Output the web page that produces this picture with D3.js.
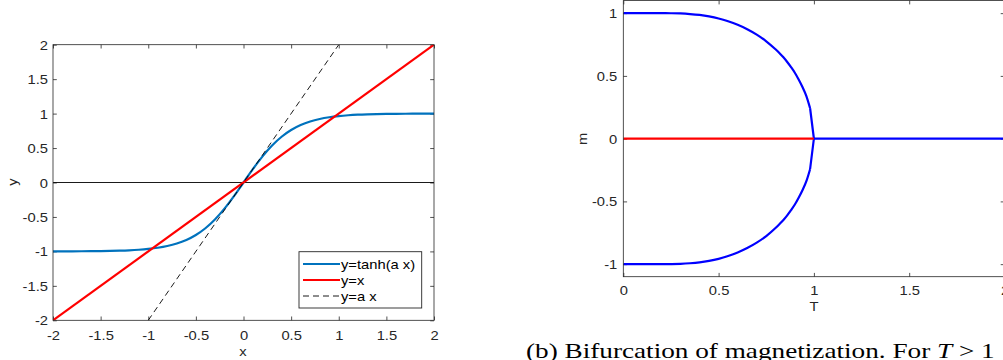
<!DOCTYPE html>
<html><head><meta charset="utf-8">
<script src="https://cdn.jsdelivr.net/npm/d3@7"></script>
<style>html,body{margin:0;padding:0;background:#fff;overflow:hidden}</style>
</head><body>
<svg id="c" width="1003" height="360"></svg>
<script>
// ---------- data: panel (a) ----------
const xTicksA = [-2,-1.5,-1,-0.5,0,0.5,1,1.5,2];
const yTicksA = [-2,-1.5,-1,-0.5,0,0.5,1,1.5,2];
const xTanh = [-2,-1.9,-1.8,-1.7,-1.6,-1.5,-1.4,-1.3,-1.2,-1.1,-1,-0.9,-0.8,-0.7,-0.6,-0.5,-0.4,-0.3,-0.2,-0.1,0,
               0.1,0.2,0.3,0.4,0.5,0.6,0.7,0.8,0.9,1,1.1,1.2,1.3,1.4,1.5,1.6,1.7,1.8,1.9,2];
const yTanh = [-0.9993,-0.9990,-0.9985,-0.9978,-0.9967,-0.9951,-0.9926,-0.9890,-0.9837,-0.9757,-0.9640,-0.9468,-0.9217,-0.8854,-0.8337,-0.7616,-0.6640,-0.5370,-0.3799,-0.1974,0,
               0.1974,0.3799,0.5370,0.6640,0.7616,0.8337,0.8854,0.9217,0.9468,0.9640,0.9757,0.9837,0.9890,0.9926,0.9951,0.9967,0.9978,0.9985,0.9990,0.9993];
const xIdent = [-2, 2];
const yIdent = [-2, 2];
const xSlope = [-1, 1];
const ySlope = [-2, 2];
const xZeroA = [-2, 2];
const yZeroA = [0, 0];
const legendLabels = ["y=tanh(a x)", "y=x", "y=a x"];

// ---------- data: panel (b) ----------
const xTicksB = [0, 0.5, 1, 1.5, 2];
const yTicksB = [-1, -0.5, 0, 0.5, 1];
const tBranch = [0,0.05,0.1,0.15,0.2,0.25,0.3,0.35,0.4,0.45,0.5,0.55,0.6,0.65,0.7,0.75,0.8,0.82,0.84,0.86,0.88,0.9,0.92,0.94,0.96,0.98,1.0];
const mUpper  = [1,1,1,1,0.9999,0.9993,0.9975,0.993,0.9857,0.974,0.9575,0.935,0.907,0.872,0.829,0.776,0.710,0.680,0.648,0.611,0.570,0.525,0.471,0.411,0.341,0.243,0];
const mLower  = [-1,-1,-1,-1,-0.9999,-0.9993,-0.9975,-0.993,-0.9857,-0.974,-0.9575,-0.935,-0.907,-0.872,-0.829,-0.776,-0.710,-0.680,-0.648,-0.611,-0.570,-0.525,-0.471,-0.411,-0.341,-0.243,0];
const tRedZero = [0, 1];
const mRedZero = [0, 0];
const tBlueZero = [1, 2];
const mBlueZero = [0, 0];
const caption = ["(b) Bifurcation of magnetization. For ", "T", " > 1"];

// ---------- drawing ----------
const svg = d3.select("#c");
const AX = "#262626";
const FONT = "'Liberation Sans', Arial, Helvetica, sans-serif";
const FS = 12.5, SX = 1.18;
const fmt = d => String(d);

function zip(a, b){ return a.map((v,i)=>[v,b[i]]); }

function stretchText(sel, x, y, txt, anchor){
  return sel.append("text")
    .attr("transform", `translate(${x},${y}) scale(${SX},1)`)
    .attr("text-anchor", anchor || "middle")
    .attr("font-family", FONT).attr("font-size", FS)
    .attr("fill", AX).text(txt);
}

function panel(o){
  const g = svg.append("g");
  const x = d3.scaleLinear().domain(o.xd).range([o.l, o.r]);
  const y = d3.scaleLinear().domain(o.yd).range([o.b, o.t]);
  const tl = o.tick;
  const bot = g.append("g").attr("transform", `translate(0,${o.b})`)
    .call(d3.axisBottom(x).tickValues(o.xt).tickSizeInner(-tl).tickSizeOuter(0).tickPadding(0).tickFormat(fmt));
  const top = g.append("g").attr("transform", `translate(0,${o.t})`)
    .call(d3.axisTop(x).tickValues(o.xt).tickSizeInner(-tl).tickSizeOuter(0).tickFormat(""));
  const lef = g.append("g").attr("transform", `translate(${o.l},0)`)
    .call(d3.axisLeft(y).tickValues(o.yt).tickSizeInner(-tl).tickSizeOuter(0).tickPadding(0).tickFormat(fmt));
  const rig = g.append("g").attr("transform", `translate(${o.r},0)`)
    .call(d3.axisRight(y).tickValues(o.yt).tickSizeInner(-tl).tickSizeOuter(0).tickFormat(""));
  [bot, top, lef, rig].forEach(a => {
    a.select(".domain").remove();
    a.selectAll("line").attr("stroke", AX).attr("stroke-width", 0.8);
  });
  bot.selectAll("text").attr("y", null).attr("dy", null)
    .attr("transform", `translate(0,${o.xlab}) scale(${SX},1)`)
    .attr("font-family", FONT).attr("font-size", FS).attr("fill", AX);
  lef.selectAll("text").attr("x", null).attr("dy", null)
    .attr("transform", `translate(${-o.ylab},4.5) scale(${SX},1)`)
    .attr("font-family", FONT).attr("font-size", FS).attr("fill", AX);
  return {g, x, y};
}

// Panel (a)
const A = panel({xd:[-2,2], yd:[-2,2], l:53, r:434, t:44.7, b:320.3, xt:xTicksA, yt:yTicksA, tick:3.8, xlab:19.2, ylab:5});
svg.append("clipPath").attr("id","clipA").append("rect")
  .attr("x",53).attr("y",44.7).attr("width",381).attr("height",275.6);
const la = A.g.append("g").attr("clip-path","url(#clipA)");
const lineA = d3.line().x(d=>A.x(d[0])).y(d=>A.y(d[1]));
la.append("path").datum(zip(xZeroA, yZeroA)).attr("d", lineA)
  .attr("fill","none").attr("stroke","#000").attr("stroke-width",0.9);
la.append("path").datum(zip(xTanh, yTanh)).attr("d", lineA.curve(d3.curveCatmullRom))
  .attr("fill","none").attr("stroke","#0072BD").attr("stroke-width",2.2);
lineA.curve(d3.curveLinear);
la.append("path").datum(zip(xIdent, yIdent)).attr("d", lineA)
  .attr("fill","none").attr("stroke","#FF0000").attr("stroke-width",2.2);
la.append("path").datum(zip(xSlope, ySlope)).attr("d", lineA)
  .attr("fill","none").attr("stroke","#000").attr("stroke-width",0.9).attr("stroke-dasharray","6,4");
A.g.append("rect").attr("x",53).attr("y",44.7).attr("width",381).attr("height",275.6)
  .attr("fill","none").attr("stroke",AX).attr("stroke-width",0.8);
stretchText(svg, 243, 356, "x");
svg.append("text").attr("transform", `translate(17,182) rotate(-90) scale(${SX},1)`)
  .attr("text-anchor","middle").attr("font-family",FONT).attr("font-size",FS).attr("fill",AX).text("y");

// legend
const lg = svg.append("g");
lg.append("rect").attr("x",299).attr("y",251.7).attr("width",122.7).attr("height",56.3)
  .attr("fill","#fff").attr("stroke",AX).attr("stroke-width",0.9);
const legStyles = [
  {c:"#0072BD", w:2.2, d:null},
  {c:"#FF0000", w:2.2, d:null},
  {c:"#000", w:0.9, d:"6,4"}
];
const rowY = [264, 280, 296];
legendLabels.forEach((t,i)=>{
  const s = legStyles[i];
  const ln = lg.append("line").attr("x1",303).attr("x2",340).attr("y1",rowY[i]).attr("y2",rowY[i])
    .attr("stroke",s.c).attr("stroke-width",s.w);
  if (s.d) ln.attr("stroke-dasharray", s.d);
  stretchText(lg, 341, rowY[i]+4.5, t, "start").attr("fill","#000");
});

// Panel (b)
const B = panel({xd:[0,2], yd:[-1.1,1.1], l:623.3, r:1004.5, t:0.6, b:276.7, xt:xTicksB, yt:yTicksB, tick:3.8, xlab:18, ylab:6});
const lineB = d3.line().x(d=>B.x(d[0])).y(d=>B.y(d[1]));
svg.append("clipPath").attr("id","clipB").append("rect")
  .attr("x",623.3).attr("y",0.6).attr("width",381.2).attr("height",276.1);
const lb = B.g.append("g").attr("clip-path","url(#clipB)");
lb.append("path").datum(zip(tBlueZero, mBlueZero)).attr("d", lineB)
  .attr("fill","none").attr("stroke","#0000FF").attr("stroke-width",2.2);
const nB = tBranch.length;
const smooth = d3.line().x(d=>B.x(d[0])).y(d=>B.y(d[1])).curve(d3.curveMonotoneX);
[mUpper, mLower].forEach(arr => {
  const pts = zip(tBranch, arr);
  lb.append("path").datum(pts.slice(0, nB-1)).attr("d", smooth)
    .attr("fill","none").attr("stroke","#0000FF").attr("stroke-width",2.2);
  lb.append("path").datum(pts.slice(nB-2)).attr("d", lineB)
    .attr("fill","none").attr("stroke","#0000FF").attr("stroke-width",2.2);
});
lb.append("path").datum(zip(tRedZero, mRedZero)).attr("d", lineB)
  .attr("fill","none").attr("stroke","#FF0000").attr("stroke-width",2.2);
B.g.append("rect").attr("x",623.3).attr("y",0.6).attr("width",381.2).attr("height",276.1)
  .attr("fill","none").attr("stroke",AX).attr("stroke-width",0.8);
stretchText(svg, 814, 311, "T");
svg.append("text").attr("transform", `translate(587,138.8) rotate(-90) scale(${SX},1)`)
  .attr("text-anchor","middle").attr("font-family",FONT).attr("font-size",FS).attr("fill",AX).text("m");

// caption
const cap = svg.append("text").attr("font-family","'Liberation Serif','Times New Roman',serif")
  .attr("font-size",21).attr("fill","#000");
cap.append("tspan").text(caption[0]);
cap.append("tspan").attr("font-style","italic").text(caption[1]);
cap.append("tspan").text(caption[2]);
const w = cap.node().getComputedTextLength();
cap.attr("transform", `translate(526,358) scale(${469 / w},1)`);
</script>
</body></html>
